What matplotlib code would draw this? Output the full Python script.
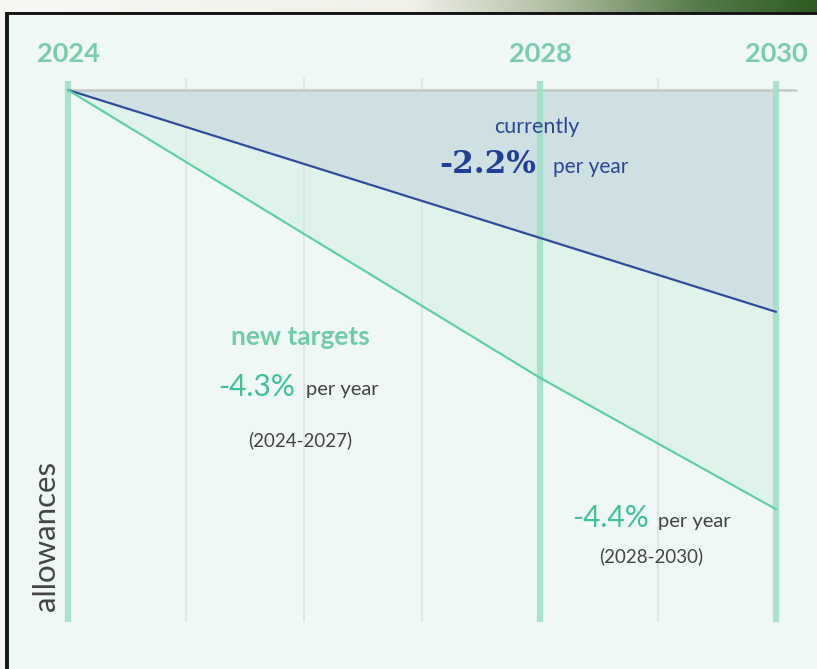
import numpy as np
import matplotlib
matplotlib.use("Agg")
import matplotlib.pyplot as plt
from matplotlib.patches import Rectangle
from matplotlib.colors import LinearSegmentedColormap

# ---------------- data ----------------
label_years = [2024, 2028, 2030]
grid_years = [2025, 2026, 2027, 2029]
current_years = [2024, 2030]
current_vals = [100, 58.3]          # currently -2.2% per year
new_years = [2024, 2028, 2030]
new_vals = [100, 45.9, 21.2]        # new targets -4.3% / -4.4% per year

# ---------------- geometry helpers (pixel -> data) ----------------
W, H = 817, 669
X0_PX, PX_PER_YEAR = 68, 118.0
Y0_PX, PX_PER_UNIT = 90, 5.32

def xd(px):
    return 2024 + (px - X0_PX) / PX_PER_YEAR

def yd(py):
    return 100 - (py - Y0_PX) / PX_PER_UNIT

fig = plt.figure(figsize=(W / 100, H / 100), dpi=100)
fig.patch.set_facecolor("#f4f4f2")

# top gradient strip
ax_s = fig.add_axes([0, 1 - 12 / H, 1, 12 / H])
grad = np.linspace(0, 1, 512).reshape(1, -1)
cmap = LinearSegmentedColormap.from_list(
    "strip", [(0, "#f7f7f4"), (0.5, "#f1f1ea"), (0.66, "#b9c4ab"),
              (0.86, "#55794a"), (1.0, "#2f5a22")])
ax_s.imshow(grad, aspect="auto", cmap=cmap, extent=[0, 1, 0, 1])
ax_s.set_axis_off()

# frame
frame = Rectangle((6.5 / W, -0.05), 1.2, (H - 13) / H + 0.05,
                  transform=fig.transFigure, facecolor="#f0f8f5",
                  edgecolor="#151515", lw=2.8)
frame.set_zorder(-10)
fig.patches.append(frame)

# main axes
left_px, right_px, top_px, bot_px = 20, 812, 40, 650
ax = fig.add_axes([left_px / W, (H - bot_px) / H,
                   (right_px - left_px) / W, (bot_px - top_px) / H])
ax.set_zorder(5)
ax.set_xlim(xd(left_px), xd(right_px))
ax.set_ylim(yd(bot_px), yd(top_px))
ax.set_axis_off()
ax.patch.set_alpha(0)

# fills
cur_on_new = np.interp(new_years, current_years, current_vals)
ax.fill_between(current_years, current_vals, [100, 100], color="#cfe0e3", lw=0, zorder=1)
ax.fill_between(new_years, new_vals, cur_on_new, color="#e0f3eb", lw=0, zorder=1)

# thin grid lines
ax.vlines(grid_years, 0, yd(78), color="#d9e2df", lw=1.1, zorder=2)
# top reference line
ax.hlines(100, 2024, xd(797), color="#c4c9c8", lw=1.8, zorder=2)
# thick year lines
ax.vlines(label_years, 0, yd(81), color="#9edfc6", lw=4.5, alpha=0.85, zorder=3)

# series lines
ax.plot(current_years, current_vals, color="#2f4c9c", lw=1.6, zorder=4,
        solid_capstyle="round")
ax.plot(new_years, new_vals, color="#5fd0a6", lw=1.6, zorder=4,
        solid_capstyle="round")

# year labels
for yr in label_years:
    ax.text(yr, yd(54), str(yr), ha="center", va="center",
            fontsize=19.5, color="#6cc9a2", family="Lato", fontweight="bold",
            alpha=0.9, zorder=5)

blue = "#2a4796"
ax.text(xd(537), yd(133), "currently", ha="center", va="baseline",
        fontsize=15.5, color=blue, family="Lato", zorder=5)
ax.text(xd(439), yd(173), "-2.2%", ha="left", va="baseline",
        fontsize=22.5, color="#203f98", family="DejaVu Serif", fontweight="bold", zorder=5)
ax.text(xd(553), yd(173), "per year", ha="left", va="baseline",
        fontsize=15, color=blue, family="Lato", zorder=5)

green = "#6fcca5"
green2 = "#3fc394"
gray = "#444444"
ax.text(xd(300), yd(345), "new targets", ha="center", va="baseline",
        fontsize=19, color=green, family="Lato", fontweight="bold", zorder=5)
ax.text(xd(218), yd(396), "-4.3%", ha="left", va="baseline",
        fontsize=21.5, color=green2, family="Lato", zorder=5)
ax.text(xd(306), yd(395), "per year", ha="left", va="baseline",
        fontsize=14.5, color=gray, family="Lato", zorder=5)
ax.text(xd(300), yd(446), "(2024-2027)", ha="center", va="baseline",
        fontsize=13.5, color=gray, family="Lato", zorder=5)

ax.text(xd(572), yd(527), "-4.4%", ha="left", va="baseline",
        fontsize=21.5, color=green2, family="Lato", zorder=5)
ax.text(xd(658), yd(527), "per year", ha="left", va="baseline",
        fontsize=14.5, color=gray, family="Lato", zorder=5)
ax.text(xd(651), yd(562), "(2028-2030)", ha="center", va="baseline",
        fontsize=13.5, color=gray, family="Lato", zorder=5)

ax.text(xd(46), yd(536), "allowances", ha="center", va="center", rotation=90,
        fontsize=22.5, color=gray, family="Lato", zorder=5)

fig.savefig("out.png", dpi=100)
